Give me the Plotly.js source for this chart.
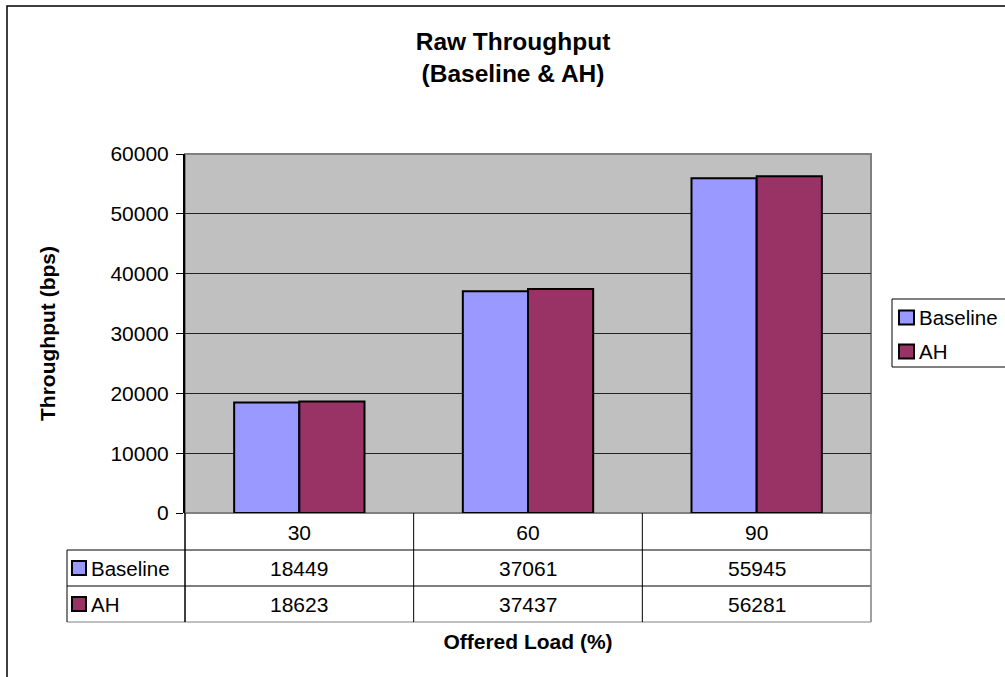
<!DOCTYPE html>
<html><head><meta charset="utf-8">
<script src="https://cdn.plot.ly/plotly-3.0.1.min.js"></script>
<style>html,body{margin:0;padding:0;background:#fff}#chart{width:1005px;height:677px}</style>
</head><body><div id="chart"></div>
<script>
// ---- data ----
const categories = ['30', '60', '90'];
const seriesNames = ['Baseline', 'AH'];
const baselineValues = [18449, 37061, 55945];
const ahValues = [18623, 37437, 56281];
const yTickValues = [0, 10000, 20000, 30000, 40000, 50000, 60000];

const colors = ['#9999FF', '#993366'];
const FONT = 'Liberation Sans, Arial, sans-serif';

// plot-area pixel frame (for converting pixel positions of decorations)
const L = 185, R = 871, T = 154, B = 513;
const W = R - L, H = B - T;
const px = x => (x - L) / W;
const py = y => (B - y) / H;

const allSeries = [baselineValues, ahValues];
const traces = allSeries.map((vals, i) => ({
  type: 'bar', name: seriesNames[i], x: categories, y: vals,
  marker: {color: colors[i], line: {color: '#000', width: 2}},
  hoverinfo: 'x+y+name'
}));

const shapes = [];
const annotations = [];
const line = (x0, y0, x1, y1, color, w) => shapes.push({type: 'line', xref: 'paper', yref: 'paper',
  x0: px(x0), y0: py(y0), x1: px(x1), y1: py(y1), line: {color: color || '#000', width: w || 1}});
const rect = (x0, y0, x1, y1, fill, lc, lw, layer) => shapes.push({type: 'rect', xref: 'paper', yref: 'paper',
  x0: px(x0), y0: py(y0), x1: px(x1), y1: py(y1), fillcolor: fill || 'rgba(0,0,0,0)',
  line: {color: lc || '#000', width: lw === undefined ? 1 : lw}, layer: layer || 'above'});
const text = (t, x, y, anchor, size) => annotations.push({text: t, xref: 'paper', yref: 'paper',
  x: px(x), y: py(y), xanchor: anchor || 'left', yanchor: 'middle', showarrow: false,
  font: {family: FONT, size: size || 21, color: '#000'}});

// outer chart frame
rect(7, 6, 1015, 690, null, '#000', 1.5);
// plot-area border (gray)
rect(L, T, R, B, null, '#808080', 2, 'below');

// data table
const rowTop = 550, rowH = 36;
const nRows = seriesNames.length;
const tableLeft = 67;
for (let r = 0; r <= nRows; r++) line(tableLeft, rowTop + r * rowH, R, rowTop + r * rowH, r === nRows ? '#808080' : '#000', 1);
line(tableLeft, rowTop, tableLeft, rowTop + nRows * rowH, '#000', 1);
for (let c = 0; c <= categories.length; c++) {
  const x = L + c * W / categories.length;
  line(x, B, x, rowTop + nRows * rowH, c === categories.length ? '#808080' : '#000', c === 0 || c === categories.length ? 1.5 : 1);
}
seriesNames.forEach((name, r) => {
  const yc = rowTop + r * rowH + rowH / 2;
  rect(72, yc - 7, 86, yc + 7, colors[r], '#000', 2);
  text(name, 89, yc, 'left', 20.5);
  allSeries[r].forEach((v, c) => {
    // x given as category index on the category axis
    annotations.push({text: String(v), xref: 'x', yref: 'paper', x: c, y: py(yc),
      xanchor: 'center', yanchor: 'middle', showarrow: false, font: {family: FONT, size: 21, color: '#000'}});
  });
});

// legend (right)
rect(892, 299, 1015, 367, '#fff', '#000', 1);
seriesNames.forEach((name, r) => {
  const yc = 317.5 + r * 34;
  rect(899, yc - 7, 914, yc + 7, colors[r], '#000', 2);
  text(name, 917, yc, 'left', 20.5);
});

const layout = {
  width: 1005, height: 677,
  margin: {l: L, r: 1005 - R, t: T, b: 677 - B, pad: 0},
  paper_bgcolor: '#fff', plot_bgcolor: '#C0C0C0',
  font: {family: FONT, size: 21, color: '#000'},
  title: {text: 'Raw Throughput<br>(Baseline & AH)', font: {family: FONT, size: 24.5, weight: 'bold', color: '#000'},
    xref: 'container', yref: 'container', x: 513 / 1005, xanchor: 'center', y: 1 - 50 / 677, yanchor: 'top'},
  showlegend: false,
  barmode: 'group', bargap: 0.43, bargroupgap: 0,
  xaxis: {type: 'category', categoryorder: 'array', categoryarray: categories, range: [-0.5, categories.length - 0.5],
    autorange: false, showgrid: false, zeroline: false,
    showline: false, ticks: '', ticklabelstandoff: 5, tickfont: {family: FONT, size: 21, color: '#000'},
    title: {text: 'Offered Load (%)', font: {family: FONT, size: 21, weight: 'bold', color: '#000'}, standoff: 91},
    automargin: false, fixedrange: true},
  yaxis: {range: [0, 60000], autorange: false, tickvals: yTickValues, tickformat: 'd', showgrid: true, gridcolor: '#222', gridwidth: 1,
    zeroline: false, showline: true, linecolor: '#000', linewidth: 2, ticks: 'outside', ticklen: 7, tickcolor: '#000',
    tickwidth: 1, ticklabelstandoff: 3, tickfont: {family: FONT, size: 21, color: '#000'},
    title: {text: 'Throughput (bps)', font: {family: FONT, size: 21, weight: 'bold', color: '#000'}, standoff: 49},
    automargin: false, fixedrange: true},
  shapes: shapes, annotations: annotations
};

Plotly.newPlot('chart', traces, layout, {displayModeBar: false, staticPlot: true});
</script></body></html>
